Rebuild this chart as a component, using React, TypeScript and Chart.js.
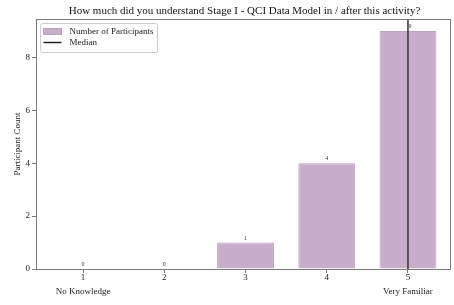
import React, { useEffect, useRef } from "react";
import { Chart, registerables } from "chart.js";

Chart.register(...registerables);

const categories = [1, 2, 3, 4, 5];
const counts = [0, 0, 1, 4, 9];
const medianValue = 5;
const endLabels: Record<number, string> = { 1: "No Knowledge", 5: "Very Familiar" };
const yTicks = [0, 2, 4, 6, 8];
const titleText = "How much did you understand Stage I - QCI Data Model in / after this activity?";

const SERIF = "'Liberation Serif', 'DejaVu Serif', serif";
const BAR_FILL = "rgba(201, 174, 204, 1)";
const BAR_EDGE = "rgba(190, 160, 194, 1)";
const SPINE = "#7a7a7a";

const extrasPlugin = {
  id: "extras",
  afterDatasetsDraw(chart: any) {
    const ctx = chart.ctx;
    const meta = chart.getDatasetMeta(0);
    ctx.save();
    ctx.fillStyle = "#333";
    ctx.font = `6px ${SERIF}`;
    ctx.textAlign = "center";
    ctx.textBaseline = "bottom";
    meta.data.forEach((bar: any, i: number) => {
      ctx.fillText(String(counts[i]), bar.x + (i === 4 ? 2 : 0), bar.y - 1.5);
    });
    ctx.restore();
  },
  afterDraw(chart: any) {
    const ctx = chart.ctx;
    const a = chart.chartArea;
    ctx.save();
    // title centred over the plot area
    ctx.fillStyle = "#111";
    ctx.font = `11px ${SERIF}`;
    ctx.textAlign = "center";
    ctx.textBaseline = "middle";
    ctx.fillText(titleText, (a.left + a.right) / 2 + 1, 11.5);
    // frame
    ctx.strokeStyle = SPINE;
    ctx.lineWidth = 1;
    ctx.strokeRect(Math.round(a.left) + 0.5, Math.round(a.top) + 0.5, Math.round(a.right - a.left) - 1, Math.round(a.bottom - a.top));
    // legend
    const lx = a.left + 4.5, ly = a.top + 4.5, lw = 117, lh = 29;
    ctx.fillStyle = "rgba(255,255,255,0.85)";
    ctx.strokeStyle = "#cccccc";
    ctx.beginPath();
    ctx.roundRect(lx, ly, lw, lh, 2);
    ctx.fill();
    ctx.stroke();
    ctx.fillStyle = BAR_FILL;
    ctx.fillRect(lx + 3, ly + 5, 18, 6);
    ctx.strokeStyle = BAR_EDGE;
    ctx.strokeRect(lx + 3, ly + 5, 18, 6);
    ctx.strokeStyle = "#222";
    ctx.lineWidth = 1.5;
    ctx.beginPath();
    ctx.moveTo(lx + 3, ly + 19);
    ctx.lineTo(lx + 21, ly + 19);
    ctx.stroke();
    ctx.fillStyle = "#222";
    ctx.font = `9px ${SERIF}`;
    ctx.textAlign = "left";
    ctx.textBaseline = "middle";
    ctx.fillText("Number of Participants", lx + 29, ly + 8);
    ctx.fillText("Median", lx + 29, ly + 19);
    ctx.restore();
  },
};

export default function App() {
  const ref = useRef<HTMLCanvasElement | null>(null);
  useEffect(() => {
    if (!ref.current) return;
    const chart = new Chart(ref.current, {
      type: "bar",
      data: {
        datasets: [
          {
            type: "bar",
            label: "Number of Participants",
            data: categories.map((c, i) => ({ x: c, y: counts[i] })),
            backgroundColor: BAR_FILL,
            borderColor: BAR_EDGE,
            borderWidth: 1,
            barPercentage: 0.7,
            categoryPercentage: 1,
            order: 2,
          },
          {
            type: "line",
            label: "Median",
            data: [
              { x: medianValue, y: 0 },
              { x: medianValue, y: 9.45 },
            ],
            borderColor: "#333",
            borderWidth: 1.5,
            pointRadius: 0,
            order: 1,
          } as any,
        ],
      },
      options: {
        animation: false,
        responsive: false,
        layout: { padding: { left: 0, right: 3, top: 19, bottom: 0 } },
        plugins: {
          legend: { display: false },
          tooltip: { enabled: false },
          title: { display: false },
        },
        scales: {
          x: {
            type: "linear",
            offset: false,
            min: 0.42,
            max: 5.53,
            grid: { offset: false, drawOnChartArea: false, drawTicks: true, tickLength: 4, color: SPINE },
            border: { display: false },
            afterBuildTicks: (s: any) => {
              s.ticks = categories.map((v) => ({ value: v }));
            },
            afterFit: (s: any) => {
              s.height = 36;
            },
            ticks: {
              color: "#222",
              font: { family: SERIF, size: 9, lineHeight: 1.6 },
              padding: -2.5,
              maxRotation: 0,
              autoSkip: false,
              callback: (v: any) => (endLabels[v] ? [String(v), endLabels[v]] : String(v)),
            },
          },
          y: {
            type: "linear",
            min: 0,
            max: 9.45,
            grid: { drawOnChartArea: false, drawTicks: true, tickLength: 4, color: SPINE },
            border: { display: false },
            afterBuildTicks: (s: any) => {
              s.ticks = yTicks.map((v) => ({ value: v }));
            },
            afterFit: (s: any) => {
              s.width = 36;
            },
            title: {
              display: true,
              text: "Participant Count",
              color: "#222",
              font: { family: SERIF, size: 9 },
              padding: { top: 12, bottom: 0 },
            },
            ticks: { color: "#222", font: { family: SERIF, size: 9 }, padding: 2 },
          },
        },
      },
      plugins: [extrasPlugin],
    });
    return () => chart.destroy();
  }, []);
  return (
    <div style={{ position: "fixed", left: 0, top: 0, width: 454, height: 305, background: "#fff" }}>
      <canvas ref={ref} width={454} height={305} style={{ width: 454, height: 305 }} />
    </div>
  );
}
